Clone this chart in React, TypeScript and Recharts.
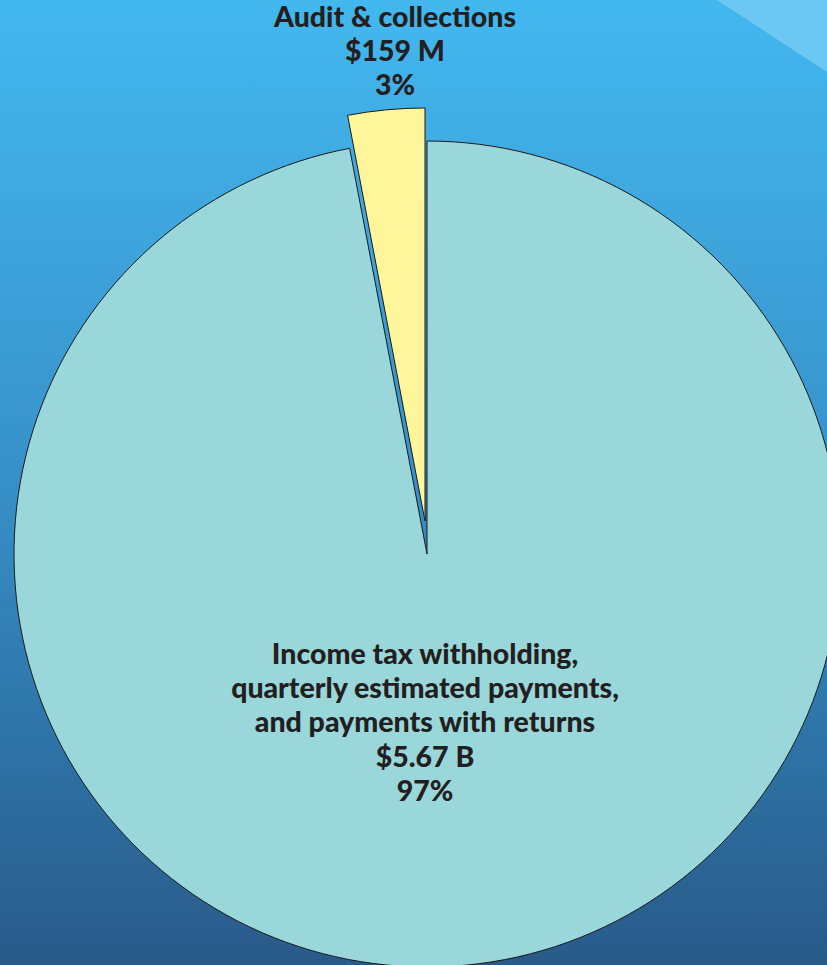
import React from "react";
import { PieChart, Pie, Cell } from "recharts";

const categories = ["Audit & collections", "Income tax withholding, quarterly estimated payments, and payments with returns"];
const labelLines = [
  ["Audit & collections", "$159 M", "3%"],
  ["Income tax withholding,", "quarterly estimated payments,", "and payments with returns", "$5.67 B", "97%"],
];
const amounts = ["$159 M", "$5.67 B"];
const shares = [3, 97];
const fills = ["#fff59a", "#9ad7da"];

const data = categories.map((name, i) => ({ name, amount: amounts[i], value: shares[i] }));

const W = 827;
const H = 965;
const CX = 427;
const CY = 554;
const R = 413;

const FONT = "Lato, 'Open Sans', sans-serif";

const renderLabels = (props: any) => {
  const { index, cx, cy } = props;
  const lines = labelLines[index];
  const x = index === 0 ? cx - 32 : cx - 2;
  const y0 = index === 0 ? cy - 527 : cy + 110;
  return (
    <text
      key={`lbl-${index}`}
      x={x}
      y={y0}
      textAnchor="middle"
      fill="#231f20"
      fontFamily={FONT}
      fontWeight={900}
      fontSize={28.5}
    >
      {lines.map((l, k) => (
        <tspan key={k} x={x} dy={k === 0 ? 0 : 34.2}>
          {l}
        </tspan>
      ))}
    </text>
  );
};

export default function App() {
  return (
    <div
      style={{
        position: "fixed",
        left: 0,
        top: 0,
        width: W,
        height: H,
        overflow: "hidden",
        background:
          "linear-gradient(to bottom, #42b8ef 0%, #3ea4dc 25%, #3790c8 50%, #2f77ab 73%, #295a89 100%)",
      }}
    >
      <div
        style={{
          position: "absolute",
          left: 0,
          top: 0,
          width: W,
          height: H,
          background: "#6cc8f3",
          clipPath: "polygon(717px 0px, 827px 0px, 827px 72px)",
        }}
      />
      <div style={{ position: "absolute", left: 0, top: 0 }}>
        <PieChart width={W} height={H} margin={{ top: 0, right: 0, bottom: 0, left: 0 }}>
          <Pie
            data={data}
            dataKey="value"
            nameKey="name"
            cx={CX}
            cy={CY}
            outerRadius={R}
            innerRadius={0}
            startAngle={90}
            endAngle={450}
            stroke="#1a1a1a"
            strokeWidth={1}
            isAnimationActive={false}
            label={renderLabels}
            labelLine={false}
          >
            {data.map((d, i) => (
              <Cell key={d.name} fill={i === 0 ? "none" : fills[i]} stroke={i === 0 ? "none" : "#1a1a1a"} />
            ))}
          </Pie>
          <Pie
            data={data}
            dataKey="value"
            nameKey="name"
            cx={CX - 2}
            cy={CY - 33}
            outerRadius={R}
            innerRadius={0}
            startAngle={90}
            endAngle={450}
            stroke="#1a1a1a"
            strokeWidth={1}
            isAnimationActive={false}
          >
            {data.map((d, i) => (
              <Cell key={d.name} fill={i === 0 ? fills[i] : "none"} stroke={i === 0 ? "#1a1a1a" : "none"} />
            ))}
          </Pie>
        </PieChart>
      </div>
    </div>
  );
}
